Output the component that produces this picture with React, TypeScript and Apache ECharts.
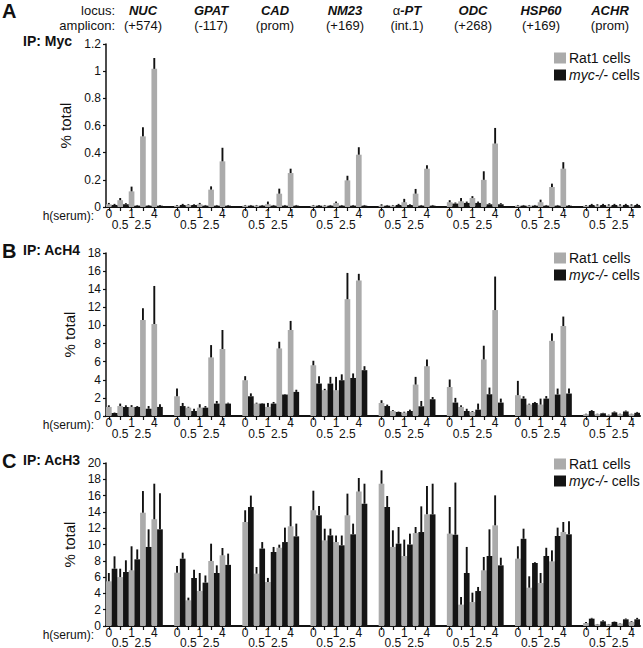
import React, { useEffect, useRef } from "react";
import * as echarts from "echarts";

const FONT = '"Liberation Sans", Arial, Helvetica, sans-serif';

const LOCI = ["NUC", "GPAT", "CAD", "NM23", "α-PT", "ODC", "HSP60", "ACHR"];
const AMPLICONS = ["(+574)", "(-117)", "(prom)", "(+169)", "(int.1)", "(+268)", "(+169)", "(prom)"];
const TIMES = ["0", "0.5", "1", "2.5", "4"];
const SERIES_NAMES = ["Rat1 cells", "myc-/- cells"];
const PANEL_LETTERS = ["A", "B", "C"];
const PANEL_TITLES = ["IP: Myc", "IP: AcH4", "IP: AcH3"];
const Y_MAX = [1.2, 18, 20];
const Y_INTERVAL = [0.2, 2, 2];

// Panel A: IP Myc
const MYC_RAT1 = [
  [0.02, 0.05, 0.115, 0.52, 1.017],
  [0.01, 0.015, 0.02, 0.128, 0.336],
  [0.01, 0.01, 0.02, 0.098, 0.25],
  [0.01, 0.01, 0.03, 0.196, 0.385],
  [0.01, 0.01, 0.035, 0.098, 0.282],
  [0.035, 0.042, 0.066, 0.2, 0.467],
  [0.01, 0.01, 0.035, 0.147, 0.282],
  [0.01, 0.01, 0.01, 0.01, 0.01],
];
const MYC_RAT1_ERR = [
  [0.01, 0.016, 0.035, 0.067, 0.08],
  [0.005, 0.005, 0.01, 0.024, 0.1],
  [0.005, 0.005, 0.02, 0.037, 0.032],
  [0.005, 0.005, 0.01, 0.034, 0.055],
  [0.01, 0.005, 0.025, 0.035, 0.025],
  [0.015, 0.024, 0.014, 0.063, 0.115],
  [0.005, 0.005, 0.019, 0.025, 0.048],
  [0.005, 0.01, 0.01, 0.01, 0.01],
];
const MYC_KO = [
  [0.015, 0.02, 0.01, 0.01, 0.01],
  [0.015, 0.015, 0.01, 0.01, 0.01],
  [0.01, 0.01, 0.01, 0.01, 0.01],
  [0.01, 0.01, 0.01, 0.01, 0.01],
  [0.01, 0.015, 0.015, 0.01, 0.01],
  [0.025, 0.03, 0.03, 0.02, 0.02],
  [0.01, 0.01, 0.01, 0.01, 0.01],
  [0.015, 0.015, 0.015, 0.015, 0.015],
];
const MYC_KO_ERR = [
  [0.008, 0.008, 0.005, 0.005, 0.005],
  [0.008, 0.005, 0.005, 0.005, 0.005],
  [0.005, 0.005, 0.005, 0.005, 0.005],
  [0.005, 0.005, 0.005, 0.005, 0.005],
  [0.005, 0.008, 0.005, 0.005, 0.005],
  [0.008, 0.01, 0.01, 0.008, 0.008],
  [0.005, 0.005, 0.005, 0.005, 0.005],
  [0.008, 0.008, 0.008, 0.008, 0.008],
];

// Panel B: IP AcH4
const ACH4_RAT1 = [
  [1.0, 1.1, 1.0, 10.6, 10.16],
  [2.18, 0.92, 0.92, 6.47, 7.4],
  [3.95, 1.37, 1.0, 7.46, 9.5],
  [5.6, 2.85, 2.85, 12.9, 14.97],
  [1.44, 0.55, 0.37, 3.47, 5.5],
  [3.2, 1.0, 0.44, 6.25, 11.7],
  [2.3, 1.26, 1.26, 8.3, 9.94],
  [0.2, 0.2, 0.1, 0.2, 0.2],
];
const ACH4_RAT1_ERR = [
  [0.18, 0.27, 0.2, 1.3, 4.2],
  [0.85, 0.1, 0.38, 1.36, 2.1],
  [0.45, 0.1, 0.44, 0.74, 1.0],
  [0.5, 0.15, 1.47, 2.9, 0.73],
  [0.3, 0.1, 0.1, 0.85, 0.75],
  [0.83, 0.18, 0.1, 1.51, 3.7],
  [1.58, 0.1, 0.66, 0.83, 1.04],
  [0.05, 0.05, 0.05, 0.05, 0.05],
];
const ACH4_KO = [
  [0.33, 1.0, 1.0, 0.8, 1.0],
  [1.1, 0.55, 0.92, 1.37, 1.37],
  [2.18, 1.37, 1.37, 2.37, 2.66],
  [3.58, 3.58, 3.95, 4.2, 5.06],
  [1.1, 0.44, 0.55, 1.07, 1.85],
  [1.48, 0.55, 0.7, 2.4, 1.48],
  [1.92, 1.44, 1.92, 2.37, 2.48],
  [0.55, 0.3, 0.4, 0.5, 0.35],
];
const ACH4_KO_ERR = [
  [0.05, 0.18, 0.1, 0.3, 0.3],
  [0.34, 0.25, 0.18, 0.29, 0.1],
  [0.32, 0.05, 0.18, 0.05, 0.24],
  [0.82, 0.74, 0.65, 0.5, 0.44],
  [0.16, 0.05, 0.15, 0.59, 0.25],
  [0.52, 0.25, 0.67, 0.74, 0.44],
  [0.26, 0.11, 0.28, 0.66, 0.55],
  [0.1, 0.05, 0.1, 0.1, 0.1],
];

// Panel C: IP AcH3
const ACH3_RAT1 = [
  [5.48, 6.0, 6.83, 13.9, 13.1],
  [6.54, 3.15, 4.3, 7.98, 8.67],
  [12.76, 6.42, 5.4, 9.6, 12.23],
  [14.2, 10.5, 10.3, 13.58, 16.5],
  [17.46, 9.7, 8.59, 11.4, 13.7],
  [11.33, 2.62, 2.94, 6.83, 12.35],
  [8.26, 4.7, 5.28, 7.93, 11.53],
  [0.37, 0.2, 0.2, 0.3, 0.5],
];
const ACH3_RAT1_ERR = [
  [1.02, 1.03, 2.95, 2.66, 4.36],
  [0.82, 0.33, 2.2, 2.12, 0.9],
  [1.44, 0.82, 0.5, 0.38, 2.47],
  [2.4, 1.44, 0.8, 2.66, 1.66],
  [1.64, 2.04, 2.01, 0.75, 3.48],
  [3.27, 0.94, 1.15, 1.64, 3.68],
  [1.52, 1.4, 1.22, 1.35, 1.23],
  [0.13, 0.05, 0.05, 0.05, 0.1],
];
const ACH3_KO = [
  [7.03, 6.63, 8.18, 9.7, 11.86],
  [8.26, 5.89, 5.32, 6.5, 7.5],
  [14.6, 9.5, 9.08, 10.3, 11.0],
  [13.58, 11.12, 9.9, 11.25, 15.0],
  [14.6, 10.1, 10.0, 11.53, 13.7],
  [11.2, 6.5, 4.29, 8.59, 7.44],
  [10.7, 7.73, 8.59, 11.04, 11.25],
  [0.9, 0.57, 0.5, 0.82, 0.82],
];
const ACH3_KO_ERR = [
  [1.52, 1.43, 1.22, 2.16, 4.44],
  [0.74, 1.01, 0.88, 0.94, 1.38],
  [1.4, 0.8, 0.62, 1.77, 1.56],
  [1.14, 0.82, 1.2, 1.31, 2.46],
  [1.35, 2.05, 1.33, 3.15, 3.76],
  [6.4, 3.2, 0.5, 3.27, 0.94],
  [1.24, 0.1, 1.01, 1.03, 1.59],
  [0.1, 0.13, 0.05, 0.1, 0.18],
];

const PANELS = [
  { rat1: MYC_RAT1, rat1Err: MYC_RAT1_ERR, ko: MYC_KO, koErr: MYC_KO_ERR },
  { rat1: ACH4_RAT1, rat1Err: ACH4_RAT1_ERR, ko: ACH4_KO, koErr: ACH4_KO_ERR },
  { rat1: ACH3_RAT1, rat1Err: ACH3_RAT1_ERR, ko: ACH3_KO, koErr: ACH3_KO_ERR },
];

const GRAY = "#ababab";
const BLACK = "#141414";
const INK = "#111111";

const PER_GROUP = 12; // 10 bars + 2 gap slots
const NSLOTS = LOCI.length * PER_GROUP - 2;
const CATS = Array.from({ length: NSLOTS }, (_, i) => String(i));
const GRID_TOPS = [44, 253, 463];
const GRID_H = 163;
const GRID_LEFT = 106;
const GRID_RIGHT = 3;
const LOCUS_X = [143, 211, 275, 345, 407, 473, 541, 610];

function slot(g: number, k: number, s: number) {
  return g * PER_GROUP + k * 2 + s;
}
function timeIndex(i: number) {
  const r = i % PER_GROUP;
  return r < 10 && r % 2 === 0 ? r / 2 : -1;
}

function barData(vals: number[][], s: number) {
  const arr: any[] = CATS.map(() => "-");
  vals.forEach((row, g) => row.forEach((v, k) => { arr[slot(g, k, s)] = v; }));
  return arr;
}
function errData(vals: number[][], errs: number[][], s: number) {
  const arr: number[][] = [];
  vals.forEach((row, g) => row.forEach((v, k) => { arr.push([slot(g, k, s), v, v + errs[g][k]]); }));
  return arr;
}

function text(t: string, x: number, y: number, size: number, opts: any = {}) {
  return {
    type: "text",
    x,
    y,
    silent: true,
    style: {
      text: t,
      fill: INK,
      font: `${opts.italic ? "italic " : ""}${opts.bold ? "bold " : ""}${size}px ${FONT}`,
      textAlign: opts.align || "left",
      textVerticalAlign: "middle",
      lineHeight: opts.lineHeight || size,
      rich: opts.rich,
    },
  };
}

export default function App() {
  const ref = useRef<HTMLDivElement>(null);
  useEffect(() => {
    if (!ref.current) return;
    const chart = echarts.init(ref.current, null, { renderer: "svg" });

    // grids 0-2: the three panels; grids 3-5: thin strips that only carry the lower row of time labels
    const grids = [
      ...GRID_TOPS.map((top) => ({ left: GRID_LEFT, right: GRID_RIGHT, top, height: GRID_H })),
      ...GRID_TOPS.map((top) => ({ left: GRID_LEFT, right: GRID_RIGHT, top: top + GRID_H - 1, height: 1 })),
    ];
    const labelStyle = { fontSize: 12, lineHeight: 10, color: INK, fontFamily: FONT, showMinLabel: true, showMaxLabel: true };
    const isLast = (i: number) => i === NSLOTS - 1;
    const xMain = GRID_TOPS.map((_, p) => ({
      type: "category",
      gridIndex: p,
      position: "bottom",
      data: CATS,
      boundaryGap: true,
      axisLine: { lineStyle: { color: INK, width: 2 } },
      axisTick: { show: true, alignWithLabel: true, interval: (i: number) => timeIndex(i) >= 0, length: 4, lineStyle: { color: INK, width: 1.2 } },
      axisLabel: {
        ...labelStyle,
        interval: (i: number) => timeIndex(i) >= 0 && timeIndex(i) % 2 === 0,
        formatter: (_v: string, i: number) => TIMES[timeIndex(i)] ?? "",
        margin: 2,
      },
      splitLine: { show: false },
    }));
    const xLower = GRID_TOPS.map((_, p) => ({
      type: "category",
      gridIndex: 3 + p,
      position: "bottom",
      data: CATS,
      boundaryGap: true,
      axisLine: { show: false },
      axisTick: { show: false },
      axisLabel: {
        ...labelStyle,
        lineHeight: 9,
        // the very last slot carries a blank label so that 2.5 of the last locus is not the axis's end label
        interval: (i: number) => isLast(i) || timeIndex(i) % 2 === 1,
        formatter: (_v: string, i: number) => (isLast(i) ? " " : TIMES[timeIndex(i)] ?? ""),
        margin: 13,
      },
      splitLine: { show: false },
    }));
    const yMain = GRID_TOPS.map((_, p) => ({
      type: "value",
      gridIndex: p,
      min: 0,
      max: Y_MAX[p],
      interval: Y_INTERVAL[p],
      name: "% total",
      nameLocation: "middle",
      nameGap: 27,
      nameRotate: 90,
      nameTextStyle: { fontSize: 15, color: INK, fontFamily: FONT },
      axisLine: { show: true, lineStyle: { color: INK, width: 1.5 } },
      axisTick: { show: true, length: 3, lineStyle: { color: INK, width: 1.2 } },
      axisLabel: {
        fontSize: 12,
        lineHeight: 10,
        color: INK,
        fontFamily: FONT,
        margin: 5,
        formatter: (v: number) => String(Math.round(v * 10) / 10),
      },
      splitLine: { show: false },
    }));
    const yHidden = GRID_TOPS.map((_, p) => ({
      type: "value",
      gridIndex: 3 + p,
      min: 0,
      max: 1,
      show: false,
    }));

    const series: any[] = [];
    PANELS.forEach((pd, p) => {
      series.push({
        type: "bar",
        name: SERIES_NAMES[0],
        xAxisIndex: p,
        yAxisIndex: p,
        data: barData(pd.rat1, 0),
        itemStyle: { color: GRAY },
        barGap: "-100%",
        barCategoryGap: 0,
      });
      series.push({
        type: "bar",
        name: SERIES_NAMES[1],
        xAxisIndex: p,
        yAxisIndex: p,
        data: barData(pd.ko, 1),
        itemStyle: { color: BLACK },
        barGap: "-100%",
        barCategoryGap: 0,
      });
      series.push({
        type: "custom",
        name: "err" + p,
        xAxisIndex: p,
        yAxisIndex: p,
        z: 5,
        silent: true,
        data: [...errData(pd.rat1, pd.rat1Err, 0), ...errData(pd.ko, pd.koErr, 1)],
        encode: { x: 0, y: [1, 2] },
        renderItem: (_params: any, api: any) => {
          const a = api.coord([api.value(0), api.value(1)]);
          const b = api.coord([api.value(0), api.value(2)]);
          return {
            type: "line",
            shape: { x1: a[0], y1: a[1], x2: a[0], y2: b[1] },
            style: { stroke: INK, lineWidth: 1.9 },
          };
        },
      });
    });

    const legends = [46, 246, 452].map((top) => ({
      data: SERIES_NAMES,
      orient: "vertical",
      left: 549,
      top,
      icon: "rect",
      itemWidth: 12,
      itemHeight: 11,
      itemGap: 3,
      selectedMode: false,
      formatter: (n: string) => (n.startsWith("myc") ? "{i|myc-/-} cells" : n),
      textStyle: {
        fontSize: 14,
        color: INK,
        fontFamily: FONT,
        padding: [0, 0, 0, -2],
        rich: { i: { fontStyle: "italic", fontSize: 14, color: INK, fontFamily: FONT } },
      },
    }));

    const graphics: any[] = [];
    const Y_LOCUS = 10;
    const Y_AMP = 25;
    graphics.push(text("locus:", 115, Y_LOCUS, 13, { align: "right", lineHeight: 12 }));
    graphics.push(text("amplicon:", 115, Y_AMP, 13, { align: "right", lineHeight: 12 }));
    LOCI.forEach((l, g) => {
      if (l.startsWith("α")) {
        graphics.push(
          text("{r|α}{b|-PT}", LOCUS_X[g], Y_LOCUS, 13, {
            align: "center",
            lineHeight: 12,
            rich: {
              r: { fontSize: 13, fontFamily: FONT, color: INK, lineHeight: 12 },
              b: { fontSize: 13, fontFamily: FONT, fontWeight: "bold", fontStyle: "italic", color: INK, lineHeight: 12 },
            },
          })
        );
      } else {
        graphics.push(text(l, LOCUS_X[g], Y_LOCUS, 13, { align: "center", bold: true, italic: true, lineHeight: 12 }));
      }
      graphics.push(text(AMPLICONS[g], LOCUS_X[g], Y_AMP, 13, { align: "center", lineHeight: 12 }));
    });
    GRID_TOPS.forEach((top, p) => {
      graphics.push(text(PANEL_LETTERS[p], 2, p === 0 ? 11 : top - 2, 20, { bold: true, lineHeight: 18 }));
      graphics.push(text(PANEL_TITLES[p], 23, top - 3, 14, { bold: true, lineHeight: 14 }));
      graphics.push(text("h(serum):", 94, top + GRID_H + 9, 12, { align: "right", lineHeight: 10 }));
    });

    chart.setOption({
      animation: false,
      backgroundColor: "#ffffff",
      textStyle: { fontFamily: FONT },
      grid: grids,
      xAxis: [...xMain, ...xLower],
      yAxis: [...yMain, ...yHidden],
      legend: legends,
      series,
      graphic: graphics,
    });
    return () => chart.dispose();
  }, []);
  return <div ref={ref} style={{ position: "absolute", left: 0, top: 0, width: 643, height: 648 }} />;
}
